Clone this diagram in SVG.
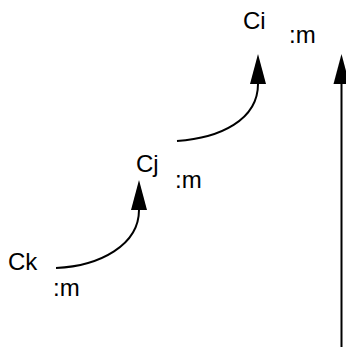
<svg xmlns="http://www.w3.org/2000/svg" width="346" height="347" viewBox="0 0 346 347">
<defs>
<style>
text{font-family:"Liberation Sans",Arial,sans-serif;font-size:24px;fill:#000}
.c{fill:none;stroke:#000;stroke-width:2}
</style>
<marker id="ah" markerUnits="userSpaceOnUse" markerWidth="31" markerHeight="17" refX="0" refY="8" orient="auto" viewBox="0 0 31 16"><path d="M0,0 L30,8 L0,16 z" fill="#000"/></marker>
</defs>
<rect width="346" height="347" fill="#fff"/>
<g id="Ck"><text x="8" y="270">Ck</text><text x="53" y="296">:m</text></g>
<g id="Cj"><text x="136" y="172">Cj</text><text x="175" y="188">:m</text></g>
<g id="Ci"><text x="243" y="29">Ci</text><text x="289" y="43">:m</text></g>
<g id="connectors">
<path class="c" d="M56,268 C100,266 139,245 139,210" marker-end="url(#ah)"/>
<path class="c" d="M177,141 C220,138 258,120 258,84" marker-end="url(#ah)"/>
<path class="c" d="M341.5,347 L341.5,84" marker-end="url(#ah)"/>
</g>
</svg>
